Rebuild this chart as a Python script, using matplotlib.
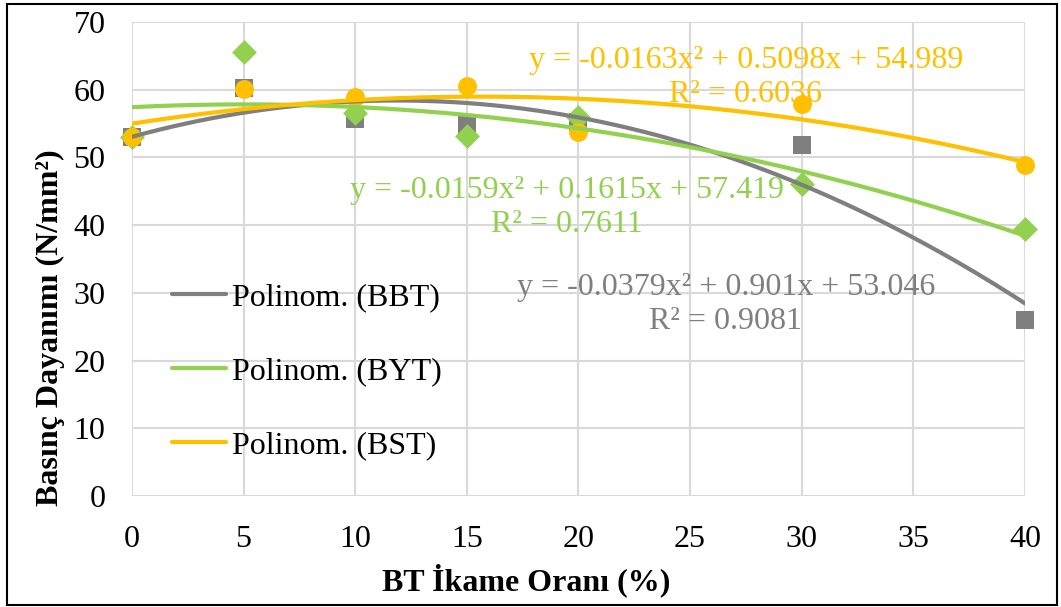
import matplotlib.pyplot as plt
import numpy as np

plt.rcParams['font.family'] = ['Liberation Serif', 'DejaVu Serif']

# replacement ratio (%)
x = [0, 5, 10, 15, 20, 30, 40]
# compressive strength, N/mm2
bbt = [53.0, 60.2, 55.6, 54.8, 55.3, 51.8, 26.0]
byt = [53.0, 65.6, 56.6, 53.2, 55.9, 46.0, 39.4]
bst = [53.0, 60.1, 58.9, 60.6, 53.8, 57.9, 48.9]

# second order trendline coefficients (a, b, c) and R^2
fit_bbt = (-0.0379, 0.901, 53.046)
fit_byt = (-0.0159, 0.1615, 57.419)
fit_bst = (-0.0163, 0.5098, 54.989)
r2_bbt = 0.9081
r2_byt = 0.7611
r2_bst = 0.6036

grey = '#7f7f7f'
green = '#92d050'
orange = '#ffc000'

fig = plt.figure(figsize=(10.61, 6.07), dpi=100)
ax = fig.add_axes([0.1244, 0.1829, 0.8416, 0.7809])

ax.scatter(x, bbt, marker='s', s=165, color=grey, zorder=3, linewidths=0, clip_on=False)
ax.scatter(x, byt, marker='D', s=160, color=green, zorder=3, linewidths=0, clip_on=False)
ax.scatter(x, bst, marker='o', s=185, color=orange, zorder=3, linewidths=0, clip_on=False)

xx = np.linspace(0, 40, 200)
def poly(c, t):
	return c[0] * t**2 + c[1] * t + c[2]

ax.plot(xx, poly(fit_bbt, xx), color=grey, lw=3.0, zorder=4, solid_capstyle='round', label='Polinom. (BBT)')
ax.plot(xx, poly(fit_byt, xx), color=green, lw=3.0, zorder=4, solid_capstyle='round', label='Polinom. (BYT)')
ax.plot(xx, poly(fit_bst, xx), color=orange, lw=3.0, zorder=4, solid_capstyle='round', label='Polinom. (BST)')

def eq_text(c, r2):
	b = ('%g' % c[1])
	return 'y = %gx² + %sx + %.3f\nR² = %.4f' % (c[0], b, c[2], r2)

tkw = dict(fontsize=23, ha='center', va='center', linespacing=1.2, zorder=5)
ax.text(27.5, 61.8, eq_text(fit_bst, r2_bst), color=orange, **tkw)
ax.text(19.5, 42.6, eq_text(fit_byt, r2_byt), color=green, **tkw)
ax.text(26.6, 28.3, eq_text(fit_bbt, r2_bbt), color=grey, **tkw)

ax.set_xlim(0, 40)
ax.set_ylim(0, 70)
ax.set_xticks(np.arange(0, 41, 5))
ax.set_yticks(np.arange(0, 71, 10))
ax.grid(True, color='#d9d9d9', lw=1.5, zorder=0)
ax.set_axisbelow(True)
for s in ax.spines.values():
	s.set_visible(False)
ax.tick_params(length=0, labelsize=23)
ax.tick_params(axis='y', pad=19)
ax.tick_params(axis='x', pad=21)

fig.text(526 / 1061, 1 - 580 / 607, 'BT İkame Oranı (%)', fontsize=23, fontweight='bold',
	ha='center', va='center')
fig.text(50 / 1061, 1 - 328 / 607, 'Basınç Dayanımı (N/mm²)', fontsize=23, fontweight='bold',
	ha='center', va='center', rotation=90)

leg = ax.legend(loc='upper left', bbox_to_anchor=(0.03, 0.477), frameon=False,
	fontsize=23, handlelength=1.7, handletextpad=0.2, labelspacing=1.4, borderaxespad=0)

# frame around the whole figure
fig.patches.append(plt.Rectangle((0.007, 0.004), 0.989, 0.99, transform=fig.transFigure,
	fill=False, edgecolor='black', lw=1.5))

plt.savefig('out.png', dpi=100)
